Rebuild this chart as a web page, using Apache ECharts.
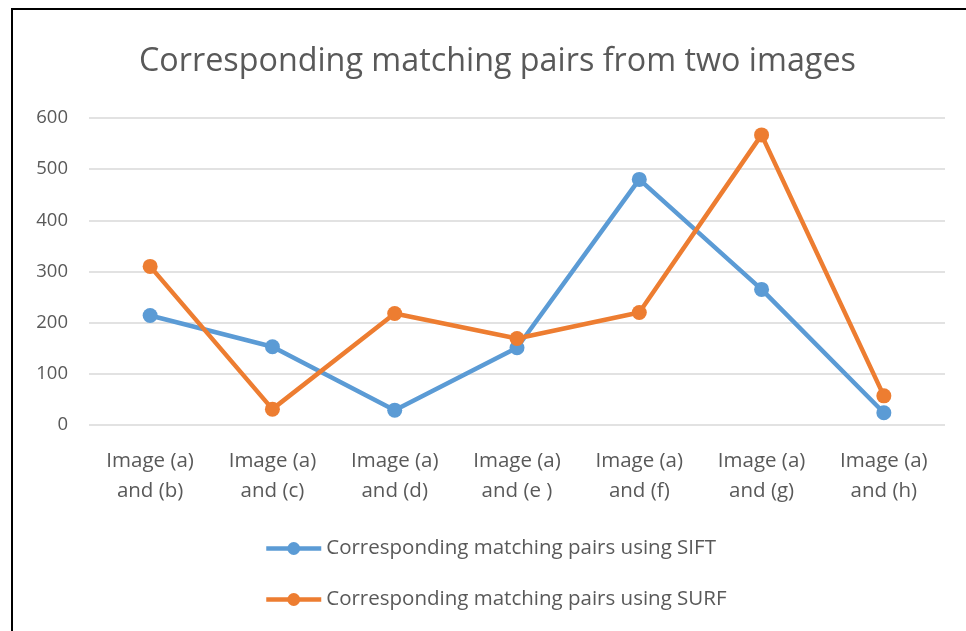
<!DOCTYPE html>
<html>
<head>
<meta charset="utf-8">
<script src="https://cdn.jsdelivr.net/npm/echarts@6/dist/echarts.min.js"></script>
<style>
html,body{margin:0;padding:0;background:#fff;}
#c{width:966px;height:631px;}
</style>
</head>
<body>
<div id="c"></div>
<script>
const categories = ["Image (a)\nand (b)", "Image (a)\nand (c)", "Image (a)\nand (d)", "Image (a)\nand (e )", "Image (a)\nand (f)", "Image (a)\nand (g)", "Image (a)\nand (h)"];
const siftValues = [214, 153, 29, 151, 480, 265, 24];
const surfValues = [310, 31, 218, 169, 220, 567, 57];
const yTicks = { min: 0, max: 600, interval: 100 };
const titleText = "Corresponding matching pairs from two images";
const siftName = "Corresponding matching pairs using SIFT";
const surfName = "Corresponding matching pairs using SURF";

const FONT = "Open Sans";
const chart = echarts.init(document.getElementById('c'), null, {renderer: 'canvas'});
chart.setOption({
  animation: false,
  backgroundColor: '#fff',
  graphic: [{
    type: 'rect',
    shape: {x: 12, y: 9, width: 1000, height: 700},
    style: {fill: 'none', stroke: '#000', lineWidth: 2},
    z: 100
  }],
  title: {
    text: titleText,
    left: 134,
    top: 41,
    textStyle: {fontFamily: FONT, fontSize: 32.3, fontWeight: 'normal', color: '#595959'}
  },
  grid: {left: 89, right: 21, top: 118, bottom: 206, containLabel: false},
  xAxis: {
    type: 'category',
    data: categories,
    boundaryGap: true,
    axisLine: {show: false},
    axisTick: {show: false},
    axisLabel: {fontFamily: FONT, fontSize: 20.5, color: '#595959', lineHeight: 30, margin: 21, interval: 0}
  },
  yAxis: {
    type: 'value',
    min: yTicks.min, max: yTicks.max, interval: yTicks.interval,
    axisLine: {show: false},
    axisTick: {show: false},
    splitLine: {lineStyle: {color: '#d9d9d9', width: 1.5}},
    axisLabel: {fontFamily: FONT, fontSize: 18.5, color: '#595959', margin: 21}
  },
  legend: {
    orient: 'vertical',
    left: 264,
    top: 538,
    padding: 0,
    itemWidth: 55,
    itemHeight: 16,
    itemGap: 30,
    lineStyle: {width: 4.5},
    textStyle: {fontFamily: FONT, fontSize: 20.5, color: '#595959'},
    data: [siftName, surfName]
  },
  series: [
    {
      name: siftName, type: 'line', data: siftValues,
      symbol: 'circle', symbolSize: 15,
      lineStyle: {color: '#5B9BD5', width: 4.5},
      itemStyle: {color: '#5B9BD5'}
    },
    {
      name: surfName, type: 'line', data: surfValues,
      symbol: 'circle', symbolSize: 15,
      lineStyle: {color: '#ED7D31', width: 4.5},
      itemStyle: {color: '#ED7D31'}
    }
  ]
});
</script>
</body>
</html>
